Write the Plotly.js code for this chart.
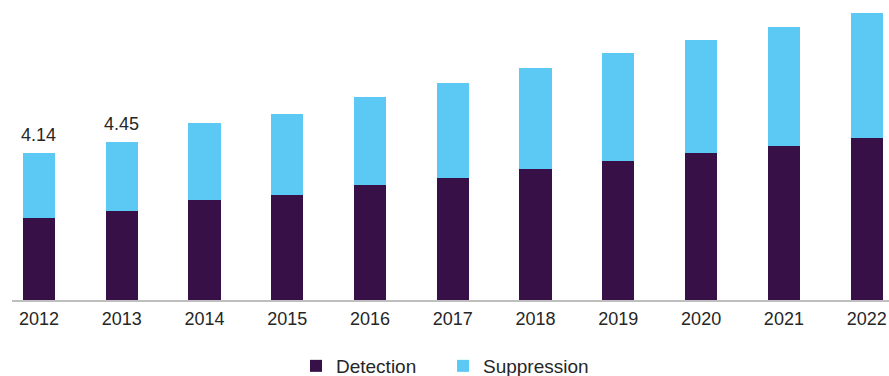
<!DOCTYPE html>
<html>
<head>
<meta charset="utf-8">
<script src="https://cdn.plot.ly/plotly-3.0.1.min.js"></script>
<style>
  html, body { margin: 0; padding: 0; background: #ffffff; }
  #chart { width: 889px; height: 376px; }
</style>
</head>
<body>
<div id="chart"></div>
<script>
// Market size by segment, 2012-2022
const years = ['2012', '2013', '2014', '2015', '2016', '2017', '2018', '2019', '2020', '2021', '2022'];
const detection   = [2.32, 2.52, 2.82, 2.96, 3.24, 3.45, 3.70, 3.94, 4.14, 4.35, 4.57];
const suppression = [1.82, 1.93, 2.17, 2.29, 2.50, 2.67, 2.85, 3.03, 3.20, 3.35, 3.53];
// Years whose stacked total is printed above the bar
const labelledYears = ['2012', '2013'];

const fontFamily = 'Liberation Sans, Arial, sans-serif';

const traces = [
  {
    type: 'bar', name: 'Detection', x: years, y: detection,
    marker: { color: '#371047' }, width: 0.39, hoverinfo: 'skip'
  },
  {
    type: 'bar', name: 'Suppression', x: years, y: suppression,
    marker: { color: '#5cc9f5' }, width: 0.39, hoverinfo: 'skip'
  }
];

const annotations = labelledYears.map(function (yr) {
  const i = years.indexOf(yr);
  const total = detection[i] + suppression[i];
  return {
    x: i, y: total, xref: 'x', yref: 'y',
    text: total.toFixed(2), showarrow: false,
    xanchor: 'center', yanchor: 'bottom', yshift: 6,
    font: { family: fontFamily, size: 18, color: '#262626' }
  };
});

const layout = {
  width: 889, height: 376,
  margin: { l: 12, r: 0, t: 0, b: 76, autoexpand: false },
  paper_bgcolor: '#ffffff', plot_bgcolor: '#ffffff',
  barmode: 'stack',
  showlegend: true,
  legend: {
    orientation: 'h', x: 0.3238, xanchor: 'left', y: -0.22, yanchor: 'middle',
    entrywidth: 102, entrywidthmode: 'pixels',
    font: { family: fontFamily, size: 19, color: '#262626' },
    traceorder: 'normal', itemclick: false, itemdoubleclick: false
  },
  xaxis: {
    type: 'category', range: [-0.326, 10.27], fixedrange: true,
    showline: true, linecolor: '#bfbfbf', linewidth: 2,
    ticks: '', showgrid: false, zeroline: false, ticklabelstandoff: 1,
    tickfont: { family: fontFamily, size: 18, color: '#262626' }
  },
  yaxis: {
    range: [0, 8.475], fixedrange: true,
    showticklabels: false, showgrid: false, zeroline: false, showline: false, ticks: ''
  },
  annotations: annotations
};

Plotly.newPlot('chart', traces, layout, { displayModeBar: false, staticPlot: true });
</script>
</body>
</html>
